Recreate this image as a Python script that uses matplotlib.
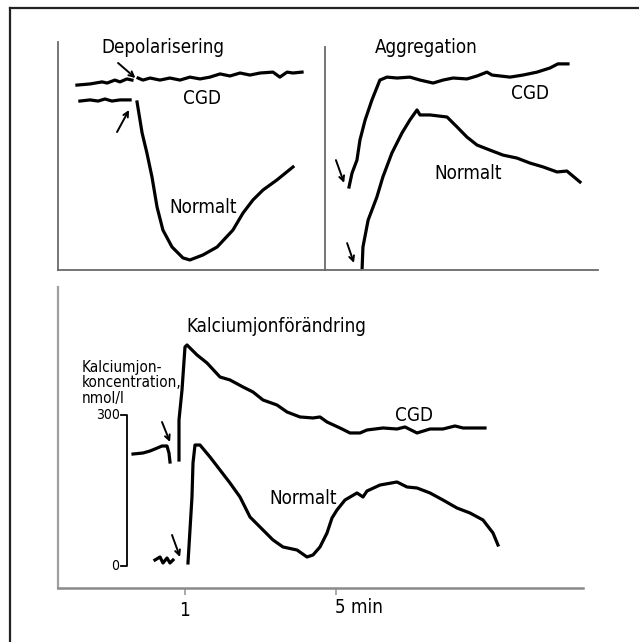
import matplotlib
matplotlib.use('Agg')
import matplotlib.pyplot as plt
from matplotlib.lines import Line2D
import matplotlib.transforms as mtransforms

plt.rcParams['font.family'] = ['DejaVu Sans']
plt.rcParams['font.stretch'] = 'condensed'

# ---- top left: Depolarisering (relative units 0-100) ----
dep_cgd_a_x = [7.1, 12.0, 16.5, 18.4, 21.3, 23.2, 25.8, 27.7]
dep_cgd_a_y = [81.1, 81.6, 82.5, 82.0, 83.3, 82.5, 83.8, 83.3]
dep_cgd_b_x = [30.0, 31.8, 34.5, 38.2, 41.9, 45.7, 49.4, 53.2, 56.9, 60.7, 64.4,
               68.2, 71.9, 75.7, 80.5, 83.1, 85.8, 88.0, 91.4]
dep_cgd_b_y = [84.2, 83.3, 84.2, 83.3, 84.2, 83.3, 84.6, 83.8, 84.6, 86.0, 85.1,
               86.4, 85.5, 86.4, 86.8, 84.6, 86.8, 86.4, 86.8]
dep_norm_a_x = [8.2, 12.0, 15.0, 17.6, 20.2, 23.2, 27.0]
dep_norm_a_y = [74.1, 74.6, 74.1, 75.0, 74.1, 74.6, 74.6]
dep_norm_b_x = [29.6, 31.5, 33.3, 35.2, 37.1, 39.3, 42.7, 46.8, 49.4, 54.3, 59.6,
                65.5, 69.3, 73.0, 76.8, 82.0, 88.0]
dep_norm_b_y = [73.7, 60.1, 51.3, 40.8, 27.6, 17.5, 10.1, 5.3, 4.4, 6.6, 10.1,
                17.5, 25.0, 30.7, 35.1, 39.5, 45.2]

# ---- top right: Aggregation ----
agg_cgd_x = [8.8, 9.9, 11.7, 12.8, 14.7, 17.2, 20.1, 22.7, 26.4, 31.1, 34.8, 39.6,
             43.2, 46.9, 52.0, 55.7, 59.3, 61.2, 67.8, 72.5, 77.7, 82.4, 85.3, 89.0]
agg_cgd_y = [36.4, 42.5, 48.2, 57.0, 65.8, 74.6, 83.3, 84.6, 84.2, 84.6, 83.3, 82.0,
             83.3, 84.2, 83.8, 85.1, 86.8, 85.5, 84.6, 85.5, 86.8, 88.6, 90.4, 90.4]
agg_norm_x = [13.6, 13.9, 15.8, 19.0, 21.2, 24.5, 28.2, 31.1, 33.7, 34.8, 38.5, 44.7,
              48.4, 52.0, 55.7, 60.4, 65.2, 70.3, 75.1, 79.9, 85.0, 88.6, 93.4]
agg_norm_y = [0.9, 10.1, 21.9, 32.0, 40.8, 51.3, 60.1, 65.8, 70.2, 68.0, 68.0, 67.1,
              62.7, 58.3, 54.8, 52.6, 50.4, 49.1, 46.9, 45.2, 43.0, 43.4, 38.6]

# ---- bottom: Kalciumjonförändring (min, nmol/l) ----
ca_cgd_a_t = [-0.377, -0.113, 0.073, 0.205, 0.391, 0.523, 0.576, 0.603]
ca_cgd_a_c = [222.5, 224.5, 228.5, 232.5, 238.4, 238.4, 224.5, 206.6]
ca_cgd_b_t = [0.841, 0.841, 0.921, 1.0, 1.053, 1.318, 1.583, 1.927, 2.192, 2.536,
              2.801, 3.066, 3.437, 3.702, 4.046, 4.391, 4.576, 4.762, 5.106, 5.371,
              5.636, 5.821, 6.245, 6.616, 6.828, 7.146, 7.490, 7.834, 8.152, 8.364, 8.947]
ca_cgd_b_c = [210.6, 290.1, 349.7, 435.2, 439.1, 419.3, 403.4, 375.5, 369.6, 355.7,
              345.7, 329.8, 319.9, 306.0, 296.1, 294.1, 296.1, 286.1, 274.2, 264.3,
              264.3, 270.2, 274.2, 272.2, 276.2, 264.3, 272.2, 272.2, 278.2, 274.2, 274.2]
ca_norm_a_t = [0.205, 0.338, 0.417, 0.523, 0.603, 0.682]
ca_norm_a_c = [11.9, 17.9, 6.0, 15.9, 6.0, 11.9]
ca_norm_b_t = [1.079, 1.132, 1.185, 1.212, 1.265, 1.397, 1.662, 1.927, 2.192, 2.457,
               2.722, 2.987, 3.331, 3.596, 3.967, 4.232, 4.391, 4.576, 4.762, 4.894,
               5.026, 5.238, 5.556, 5.715, 5.821, 6.166, 6.616, 6.881, 7.146, 7.490,
               7.834, 8.205, 8.550, 8.894, 9.159, 9.291]
ca_norm_b_c = [6.0, 71.5, 137.1, 204.7, 240.4, 240.4, 216.6, 190.8, 164.9, 137.1,
               97.4, 77.5, 51.7, 37.8, 31.8, 17.9, 21.9, 37.8, 65.6, 95.4,
               111.3, 131.1, 145.1, 137.1, 149.0, 160.9, 166.9, 157.0, 155.0, 145.1,
               131.1, 115.2, 105.3, 91.4, 65.6, 41.7]

scale_ticks = [0, 300]
time_ticks = [1, 5]
time_labels = ['1', '5 min']

W, H = 639, 642
fig = plt.figure(figsize=(W / 100, H / 100), dpi=100)

lw = 2.3
axis_col = '#6a6a6a'
fs = 13.5


def fx(px):
    return px / W


def fy(py):
    return 1 - py / H


def setup(ax):
    for s in ['top', 'right']:
        ax.spines[s].set_visible(False)
    for s in ['left', 'bottom']:
        ax.spines[s].set_color(axis_col)
        ax.spines[s].set_linewidth(1.3)
    ax.set_xticks([])
    ax.set_yticks([])
    ax.patch.set_alpha(0)


def arrow(ax, x0, y0, x1, y1):
    ax.annotate('', xy=(x1, y1), xytext=(x0, y0),
                arrowprops=dict(arrowstyle='->', lw=1.4, color='black',
                                mutation_scale=9, shrinkA=0, shrinkB=0))


# frame
fig.add_artist(Line2D([fx(10), 1], [fy(8), fy(8)], color='#222222', lw=1.6))
fig.add_artist(Line2D([fx(10), fx(10)], [fy(8), 0], color='#222222', lw=1.6))

# top left
ax1 = fig.add_axes([fx(58), fy(270), fx(325) - fx(58), fy(42) - fy(270)])
setup(ax1)
ax1.set_xlim(0, 100)
ax1.set_ylim(0, 100)
for xs, ys in [(dep_cgd_a_x, dep_cgd_a_y), (dep_cgd_b_x, dep_cgd_b_y),
               (dep_norm_a_x, dep_norm_a_y), (dep_norm_b_x, dep_norm_b_y)]:
    ax1.plot(xs, ys, color='black', lw=lw, solid_joinstyle='round')
ax1.text(39.3, 97.4, 'Depolarisering', ha='center', va='center', fontsize=fs)
ax1.text(53.9, 75.4, 'CGD', ha='center', va='center', fontsize=fs)
ax1.text(54.3, 27.2, 'Normalt', ha='center', va='center', fontsize=fs)
arrow(ax1, 22.5, 90.8, 29.0, 84.2)
arrow(ax1, 22.1, 60.5, 26.6, 70.2)

# top right
ax2 = fig.add_axes([fx(325), fy(270), fx(598) - fx(325), fy(42) - fy(270)])
setup(ax2)
ax2.set_xlim(0, 100)
ax2.set_ylim(0, 100)
ax2.spines['left'].set_bounds(0, 97.8)
ax2.plot(agg_cgd_x, agg_cgd_y, color='black', lw=lw)
ax2.plot(agg_norm_x, agg_norm_y, color='black', lw=lw)
ax2.text(37.0, 97.4, 'Aggregation', ha='center', va='center', fontsize=fs)
ax2.text(75.1, 77.6, 'CGD', ha='center', va='center', fontsize=fs)
ax2.text(52.4, 42.5, 'Normalt', ha='center', va='center', fontsize=fs)
arrow(ax2, 4.0, 48.2, 7.0, 38.2)
arrow(ax2, 8.1, 11.8, 10.6, 3.1)

# bottom
ax3 = fig.add_axes([fx(58), fy(588), fx(583) - fx(58), fy(287) - fy(588)])
setup(ax3)
ax3.spines['bottom'].set_color('#8a8a8a')
ax3.spines['bottom'].set_linewidth(1.8)
ax3.spines['left'].set_color('#a0a0a0')
ax3.spines['left'].set_linewidth(1.6)
ax3.set_xlim(-2.364, 11.543)
ax3.set_ylim(-43.7, 554.3)
ax3.set_xticks(time_ticks)
ax3.set_xticklabels([])
ax3.tick_params(axis='x', length=5, width=1.2, color='#9a9a9a', direction='out')
for xs, ys in [(ca_cgd_a_t, ca_cgd_a_c), (ca_cgd_b_t, ca_cgd_b_c),
               (ca_norm_a_t, ca_norm_a_c), (ca_norm_b_t, ca_norm_b_c)]:
    ax3.plot(xs, ys, color='black', lw=lw, solid_joinstyle='round')
arrow(ax3, 0.391, 286.1, 0.603, 246.4)
arrow(ax3, 0.656, 61.6, 0.868, 17.9)

trans = mtransforms.blended_transform_factory(ax3.transData, ax3.transAxes)
ax3.text(time_ticks[0], -0.075, time_labels[0], transform=trans, ha='center',
         va='center', fontsize=fs)
ax3.text(time_ticks[1] - 0.03, -0.066, time_labels[1], transform=trans, ha='left',
         va='center', fontsize=fs)

# scale bar
bar_t = -0.536
ax3.plot([bar_t - 0.17, bar_t, bar_t, bar_t - 0.17],
         [scale_ticks[1], scale_ticks[1], scale_ticks[0], scale_ticks[0]],
         color='black', lw=1.3)
ax3.text(bar_t - 0.2, scale_ticks[1], '300', ha='right', va='center', fontsize=10)
ax3.text(bar_t - 0.2, scale_ticks[0], '0', ha='right', va='center', fontsize=10)
ax3.text(-1.728, 318, 'Kalciumjon-\nkoncentration,\nnmol/l', ha='left', va='bottom',
         fontsize=11, linespacing=1.05)
ax3.text(3.41, 475, 'Kalciumjonförändring', ha='center', va='center', fontsize=fs)
ax3.text(7.07, 300, 'CGD', ha='center', va='center', fontsize=fs)
ax3.text(4.13, 135, 'Normalt', ha='center', va='center', fontsize=fs)

fig.savefig('out.png', dpi=100)
